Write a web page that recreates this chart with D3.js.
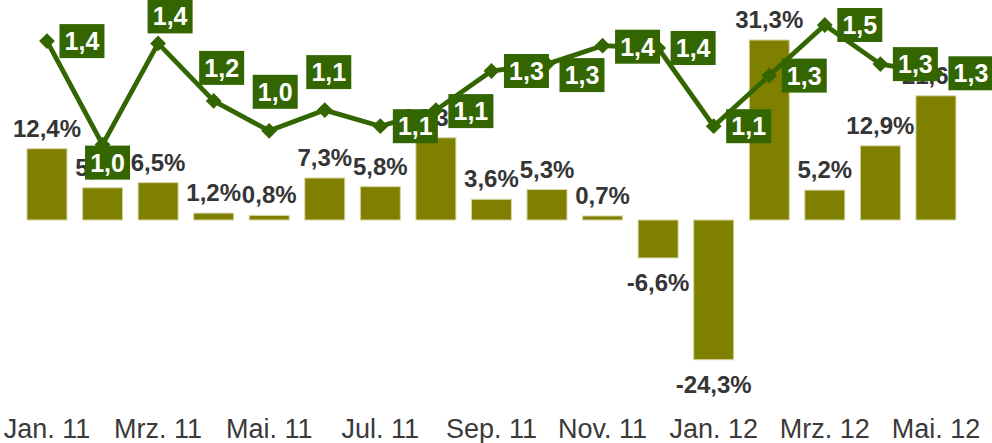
<!DOCTYPE html>
<html>
<head>
<meta charset="utf-8">
<script src="https://cdn.jsdelivr.net/npm/d3@7"></script>
<style>
    html, body { margin: 0; padding: 0; background: #fff; }
    svg { display: block; font-family: "Liberation Sans", Arial, sans-serif; }
</style>
</head>
<body>
<svg width="992" height="443"></svg>
<script>
const months = ['Jan. 11', 'Feb. 11', 'Mrz. 11', 'Apr. 11', 'Mai. 11', 'Jun. 11', 'Jul. 11', 'Aug. 11',
    'Sep. 11', 'Okt. 11', 'Nov. 11', 'Dez. 11', 'Jan. 12', 'Feb. 12', 'Mrz. 12', 'Apr. 12', 'Mai. 12'];
const tickMonths = ['Jan. 11', 'Mrz. 11', 'Mai. 11', 'Jul. 11', 'Sep. 11', 'Nov. 11', 'Jan. 12', 'Mrz. 12', 'Mai. 12'];
// change in percent (bars)
const changeValues = [12.4, 5.6, 6.5, 1.2, 0.8, 7.3, 5.8, 14.3, 3.6, 5.3, 0.7, -6.6, -24.3, 31.3, 5.2, 12.9, 21.6];
// index values (line)
const indexValues = [1.43, 0.98, 1.42, 1.17, 1.04, 1.13, 1.06, 1.13, 1.30, 1.33, 1.41, 1.40, 1.06, 1.28, 1.50, 1.33, 1.29];

// where each line label box sits, relative to its point (box centre offset)
const labelOffsets = [
    [35, 0], [5, 18], [12, -27], [8, -33], [6, -39], [4, -38], [35, 0], [35, 1],
    [35, 0], [35, 11], [35, 1], [35, 0], [35, 0], [35, 0], [35, 0], [35, 0], [35, 0]
];

const svg = d3.select('svg');

const x = d3.scaleBand()
    .domain(months)
    .range([19.2, 963.7])
    .paddingInner(0.28)
    .paddingOuter(0.14);

const yBar = d3.scaleLinear().domain([-30, 35]).range([392.5, 18.75]);
const yLine = d3.scaleLinear().domain([0.5, 1.5]).range([255, 25]);

const cx = m => x(m) + x.bandwidth() / 2;
const fmt = (v, d) => v.toFixed(d).replace('.', ',');

// bars
svg.append('g').selectAll('rect')
    .data(changeValues)
    .enter().append('rect')
    .attr('x', (d, i) => x(months[i]))
    .attr('width', x.bandwidth())
    .attr('y', d => yBar(Math.max(0, d)))
    .attr('height', d => Math.abs(yBar(d) - yBar(0)))
    .attr('fill', '#808000')
    .attr('stroke', '#d6d6a8')
    .attr('stroke-width', 1);

// bar labels
svg.append('g').selectAll('text')
    .data(changeValues)
    .enter().append('text')
    .attr('x', (d, i) => cx(months[i]))
    .attr('y', d => d >= 0 ? yBar(d) - 12 : yBar(d) + 33)
    .attr('text-anchor', 'middle')
    .attr('font-size', 24)
    .attr('font-weight', 'bold')
    .attr('fill', '#353535')
    .text(d => fmt(d, 1) + '%');

// line
const line = d3.line()
    .x((d, i) => cx(months[i]))
    .y(d => yLine(d));

svg.append('path')
    .datum(indexValues)
    .attr('d', line)
    .attr('fill', 'none')
    .attr('stroke', '#336600')
    .attr('stroke-width', 4.8)
    .attr('stroke-linejoin', 'round');

const diamond = d3.symbol().type(d3.symbolSquare).size(125);
svg.append('g').selectAll('path')
    .data(indexValues)
    .enter().append('path')
    .attr('d', diamond)
    .attr('transform', (d, i) => `translate(${cx(months[i])},${yLine(d)}) rotate(45)`)
    .attr('fill', '#336600');

// line labels
const boxW = 45, boxH = 34;
const lbl = svg.append('g').selectAll('g')
    .data(indexValues)
    .enter().append('g')
    .attr('transform', (d, i) => {
        const bx = cx(months[i]) + labelOffsets[i][0];
        const by = yLine(d) + labelOffsets[i][1];
        return `translate(${bx},${by})`;
    });

lbl.append('rect')
    .attr('x', -boxW / 2)
    .attr('y', -boxH / 2)
    .attr('width', boxW)
    .attr('height', boxH)
    .attr('fill', '#336600');

lbl.append('text')
    .attr('text-anchor', 'middle')
    .attr('y', 9)
    .attr('font-size', 25)
    .attr('font-weight', 'bold')
    .attr('fill', '#fff')
    .text(d => fmt(d, 1));

// x axis
const xAxis = d3.axisBottom(x)
    .tickValues(tickMonths)
    .tickSize(0)
    .tickPadding(0);

const axisG = svg.append('g')
    .attr('transform', 'translate(0,418)')
    .call(xAxis);

axisG.select('.domain').remove();
axisG.selectAll('text')
    .attr('dy', 0)
    .attr('y', 20)
    .attr('font-size', 27)
    .attr('font-family', '"Liberation Sans", Arial, sans-serif')
    .attr('fill', '#3a3a3a');
</script>
</body>
</html>
